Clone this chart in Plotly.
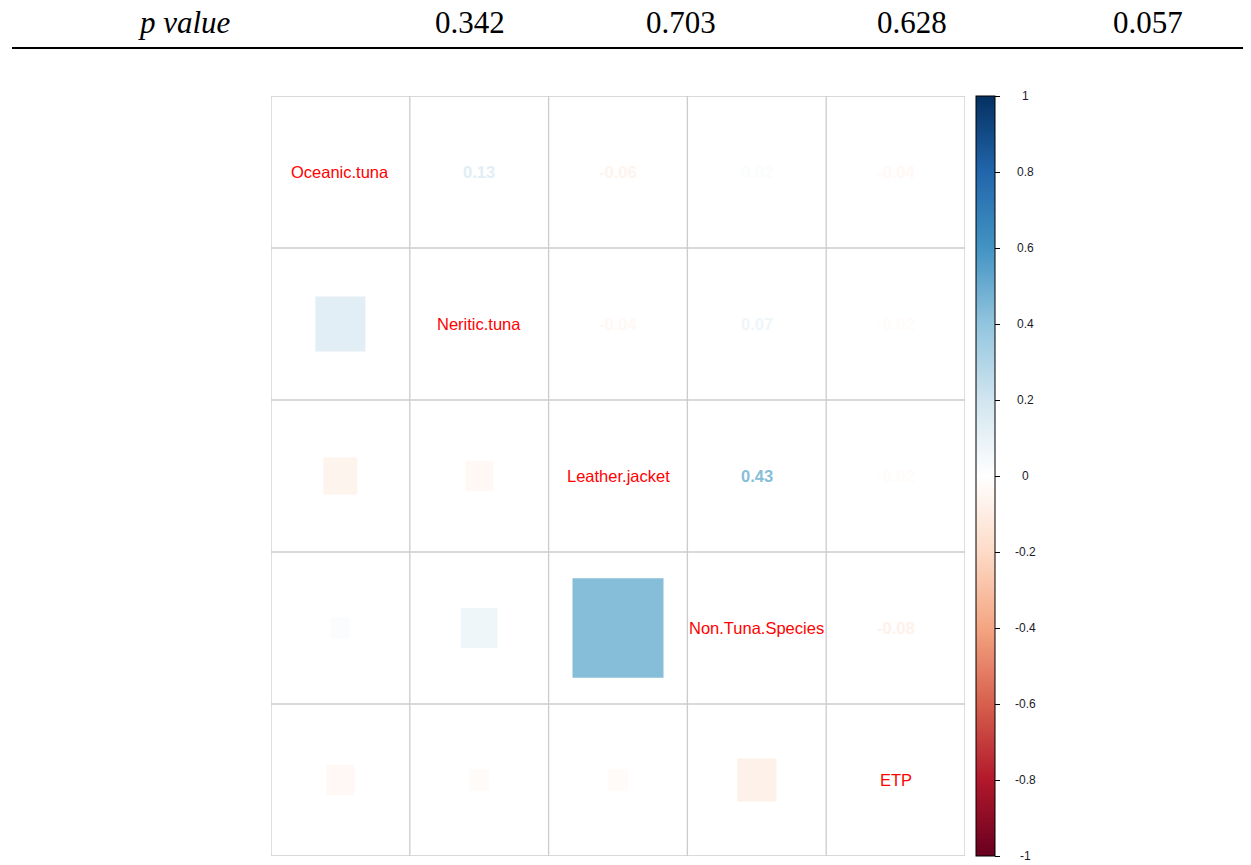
import plotly.graph_objects as go
from plotly.colors import sample_colorscale

variables = ["Oceanic.tuna", "Neritic.tuna", "Leather.jacket", "Non.Tuna.Species", "ETP"]
# upper-triangle correlation values (row i, col j, i<j)
corr_pairs = {
    (0, 1): 0.13, (0, 2): -0.06, (0, 3): 0.02, (0, 4): -0.04,
    (1, 2): -0.04, (1, 3): 0.07, (1, 4): -0.02,
    (2, 3): 0.43, (2, 4): -0.02,
    (3, 4): -0.08,
}
p_label = "p value"
p_values = ["0.342", "0.703", "0.628", "0.057"]
cbar_ticks = [-1, -0.8, -0.6, -0.4, -0.2, 0, 0.2, 0.4, 0.6, 0.8, 1]

rdbu = ["#67001F", "#B2182B", "#D6604D", "#F4A582", "#FDDBC7", "#FFFFFF",
        "#D1E5F0", "#92C5DE", "#4393C3", "#2166AC", "#053061"]
cscale = [[i / (len(rdbu) - 1), c] for i, c in enumerate(rdbu)]

def col(v):
    return sample_colorscale(cscale, [(v + 1) / 2])[0]

n = len(variables)
fig = go.Figure()
shapes = []
annotations = []

# grid lines
for k in range(n + 1):
    b = k + 0.5
    shapes.append(dict(type="line", xref="x", yref="y", x0=b, x1=b, y0=0.5, y1=n + 0.5,
                       line=dict(color="#CCCCCC", width=1.3), layer="above"))
    shapes.append(dict(type="line", xref="x", yref="y", x0=0.5, x1=n + 0.5, y0=b, y1=b,
                       line=dict(color="#CCCCCC", width=1.3), layer="above"))

# diagonal labels
for i, name in enumerate(variables):
    annotations.append(dict(x=i + 1, y=i + 1, xref="x", yref="y", text=name, showarrow=False,
                            font=dict(family="Liberation Sans, Arial", size=16.5, color="#FF0000")))

for (i, j), r in corr_pairs.items():
    # upper: numbers at row i, col j
    annotations.append(dict(x=j + 1, y=i + 1, xref="x", yref="y", text=f"<b>{r:.2f}</b>",
                            showarrow=False,
                            font=dict(family="Liberation Sans, Arial", size=16.5, color=col(r))))
    # lower: squares at row j, col i
    h = (abs(r) ** 0.5) / 2
    cx, cy = i + 1, j + 1
    shapes.append(dict(type="rect", xref="x", yref="y", x0=cx - h, x1=cx + h, y0=cy - h, y1=cy + h,
                       fillcolor=col(r), line=dict(width=0), layer="below"))

# colorbar carrier
fig.add_trace(go.Scatter(
    x=[1], y=[1], mode="markers", hoverinfo="skip", showlegend=False,
    marker=dict(size=0.1, opacity=0, color=[0], colorscale=cscale, cmin=-1, cmax=1,
                showscale=True,
                colorbar=dict(x=1.016, xanchor="left", y=0, yanchor="bottom", len=1, lenmode="fraction",
                              thickness=19, outlinecolor="black", outlinewidth=1,
                              tickvals=cbar_ticks, showticklabels=False,
                              ticks="outside", ticklen=5, tickcolor="black",
                              xpad=0, ypad=0))))

# colorbar tick labels (centered, as in the reference)
for t in cbar_ticks:
    annotations.append(dict(x=1.0865, y=(t + 1) / 2, xref="paper", yref="paper", text=f"{t:g}",
                            showarrow=False, xanchor="center", yanchor="middle",
                            font=dict(family="Liberation Sans, Arial", size=12, color="#1a1a2a")))

# top table row
serif = dict(family="Liberation Serif, Times New Roman", size=31, color="black")
annotations.append(dict(x=-0.124, y=1.097, xref="paper", yref="paper", text=f"<i>{p_label}</i>",
                        showarrow=False, xanchor="center", yanchor="middle", font=serif))
p_x = [0.2867, 0.5908, 0.9236, 1.2637]
for px, pv in zip(p_x, p_values):
    annotations.append(dict(x=px, y=1.097, xref="paper", yref="paper", text=pv, showarrow=False,
                            xanchor="center", yanchor="middle", font=serif))
shapes.append(dict(type="line", xref="paper", yref="paper", x0=-0.3732, x1=1.42, y0=1.0632, y1=1.0632,
                   line=dict(color="black", width=2)))

fig.update_layout(
    width=1243, height=857,
    margin=dict(l=263, r=286, t=88, b=9),
    paper_bgcolor="white", plot_bgcolor="white",
    xaxis=dict(range=[0.5, n + 0.5], showgrid=False, zeroline=False, showticklabels=False,
               ticks="", fixedrange=True),
    yaxis=dict(range=[n + 0.5, 0.5], showgrid=False, zeroline=False, showticklabels=False,
               ticks="", fixedrange=True),
    shapes=shapes, annotations=annotations,
)

fig.write_html("out.html")
